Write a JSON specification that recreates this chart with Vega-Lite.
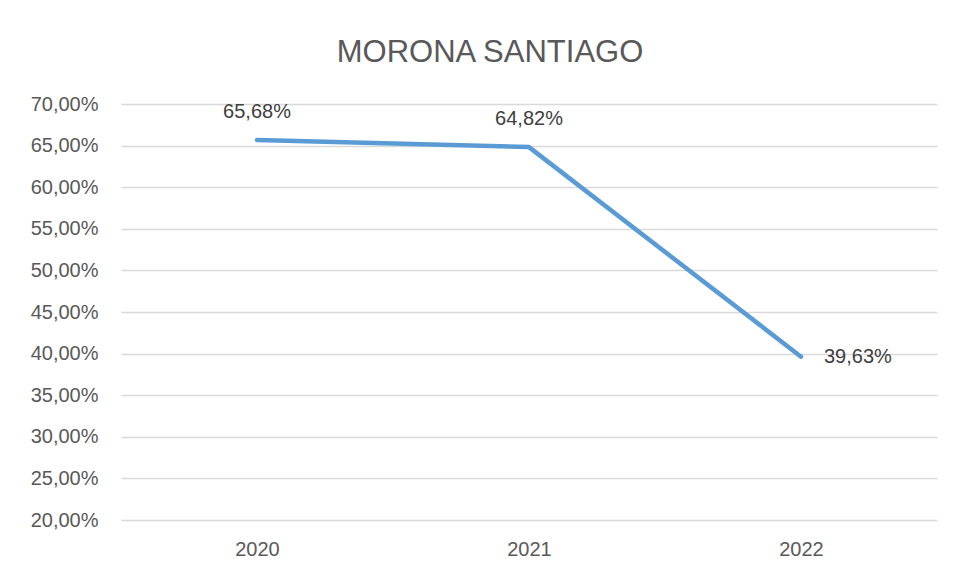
{
 "$schema": "https://vega.github.io/schema/vega-lite/v6.json",
 "autosize": {"type": "none"},
 "width": 816,
 "height": 416,
 "padding": {"left": 121, "top": 104, "right": 18, "bottom": 55},
 "background": "white",
 "config": {
  "locale": {"number": {"decimal": ",", "thousands": ".", "grouping": [3], "currency": ["$", ""]}},
  "view": {"stroke": null},
  "font": "Liberation Sans"
 },
 "title": {"text": "MORONA SANTIAGO", "fontSize": 31, "fontWeight": "normal", "color": "#595959", "offset": 25, "anchor": "middle", "dx": -39},
 "data": {"values": [
  {"year": "2020", "value": 0.6568},
  {"year": "2021", "value": 0.6482},
  {"year": "2022", "value": 0.3963}
 ]},
 "encoding": {
  "x": {"field": "year", "type": "ordinal", "scale": {"type": "point", "padding": 0.5},
   "axis": {"title": null, "domain": false, "ticks": false, "labelAngle": 0, "labelPadding": 19, "labelFontSize": 20, "labelColor": "#595959"}},
  "y": {"field": "value", "type": "quantitative", "scale": {"domain": [0.2, 0.7], "nice": false, "zero": false},
   "axis": {"title": null, "domain": false, "ticks": false, "values": [0.2, 0.25, 0.3, 0.35, 0.4, 0.45, 0.5, 0.55, 0.6, 0.65, 0.7], "format": ".2%", "labelPadding": 23, "labelFontSize": 20, "labelColor": "#595959", "gridColor": "#D9D9D9", "gridWidth": 1.3}}
 },
 "layer": [
  {"mark": {"type": "line", "color": "#5B9BD5", "strokeWidth": 4.5, "strokeCap": "round", "strokeJoin": "round"}},
  {"transform": [{"filter": "datum.year != '2022'"}],
   "mark": {"type": "text", "dy": -28, "fontSize": 20, "color": "#404040", "baseline": "middle"},
   "encoding": {"text": {"field": "value", "type": "quantitative", "format": ".2%"}}},
  {"transform": [{"filter": "datum.year == '2022'"}],
   "mark": {"type": "text", "dx": 23, "fontSize": 20, "color": "#404040", "baseline": "middle", "align": "left"},
   "encoding": {"text": {"field": "value", "type": "quantitative", "format": ".2%"}}}
 ]
}
